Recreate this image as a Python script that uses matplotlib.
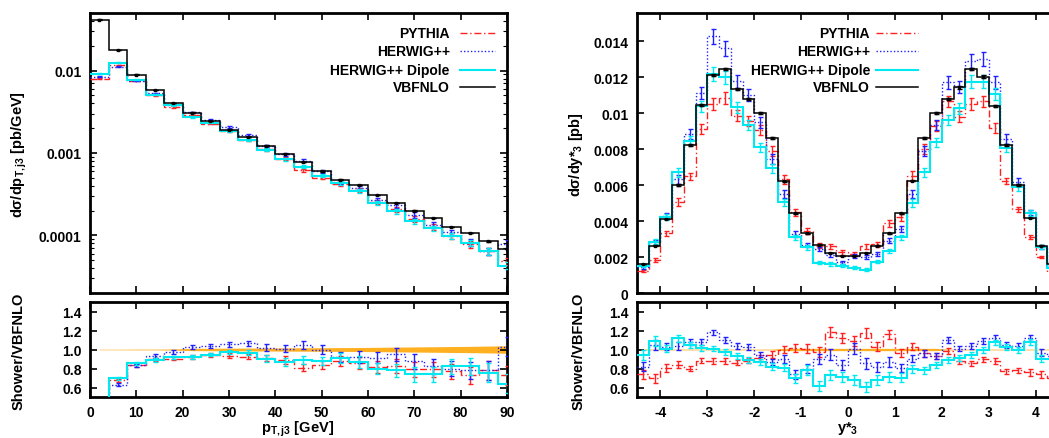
import numpy as np
import matplotlib
matplotlib.use('Agg')
import matplotlib.pyplot as plt
from matplotlib.ticker import LogLocator, NullFormatter

plt.rcParams['font.family'] = ['Liberation Sans', 'DejaVu Sans']
plt.rcParams['font.weight'] = 'bold'
plt.rcParams['axes.unicode_minus'] = False
plt.rcParams['mathtext.fontset'] = 'custom'
plt.rcParams['mathtext.rm'] = 'Liberation Sans:bold'
plt.rcParams['mathtext.it'] = 'Liberation Sans:bold'
plt.rcParams['mathtext.bf'] = 'Liberation Sans:bold'
plt.rcParams['mathtext.default'] = 'rm'

# ---- data: pT of third jet (4 GeV bins) ----
pt_edges = list(range(0, 93, 4))
pt_vbfnlo = [0.0416, 0.01766, 0.00894, 0.00577, 0.00405, 0.00309, 0.00245, 0.00192, 0.00156, 0.00123,
             0.000972, 0.000778, 0.000599, 0.000475, 0.000409, 0.000312, 0.000249, 0.0002, 0.000163,
             0.000126, 0.000107, 8.46e-5, 6.9e-5]
pt_pythia = [0.0080, 0.0116, 0.00749, 0.00502, 0.00362, 0.00287, 0.00227, 0.00183, 0.00143, 0.00111,
             0.000853, 0.000616, 0.000501, 0.000416, 0.000359, 0.000254, 0.000207, 0.000159, 0.000126,
             9.8e-5, 7.8e-5, 6.45e-5, 4.9e-5]
pt_herwig = [0.0084, 0.0111, 0.00756, 0.0053, 0.00387, 0.00312, 0.00252, 0.00205, 0.00165, 0.00122,
             0.000962, 0.000806, 0.000599, 0.000446, 0.000376, 0.000271, 0.000232, 0.000178, 0.000134,
             0.000109, 8.2e-5, 6.45e-5, 7.9e-5]
pt_dipole = [0.0092, 0.0124, 0.00777, 0.0051, 0.0038, 0.00274, 0.00234, 0.00185, 0.00143, 0.0011,
             0.00084, 0.00068, 0.00053, 0.000433, 0.000349, 0.000249, 0.000198, 0.000148, 0.000122,
             9.8e-5, 8.1e-5, 6.45e-5, 4.3e-5]
pt_ratio_pythia = [0.19, 0.675, 0.835, 0.895, 0.905, 0.92, 0.94, 0.933, 0.923, 0.912, 0.89, 0.81, 0.835,
                   0.877, 0.86, 0.817, 0.825, 0.79, 0.79, 0.77, 0.73, 0.78, 0.73]
pt_ratio_herwig = [0.2, 0.63, 0.835, 0.933, 0.975, 1.025, 1.04, 1.055, 1.065, 1.02, 1.01, 1.05, 1.0,
                   0.92, 0.92, 0.915, 0.95, 0.877, 0.825, 0.8, 0.78, 0.78, 1.03]
pt_ratio_dipole = [0.22, 0.695, 0.855, 0.888, 0.916, 0.923, 0.947, 0.975, 0.965, 0.905, 0.87, 0.89, 0.88,
                   0.91, 0.87, 0.80, 0.78, 0.74, 0.74, 0.825, 0.825, 0.755, 0.64]
pt_err = [0.01, 0.015, 0.015, 0.02, 0.02, 0.02, 0.02, 0.025, 0.025, 0.035, 0.04, 0.04, 0.045, 0.05,
          0.06, 0.06, 0.07, 0.08, 0.08, 0.08, 0.09, 0.1, 0.1]
pt_band = [0.003, 0.003, 0.004, 0.004, 0.006, 0.012, 0.013, 0.014, 0.015, 0.016, 0.017, 0.018, 0.019,
           0.02, 0.021, 0.023, 0.025, 0.027, 0.029, 0.031, 0.033, 0.036, 0.04]

# ---- data: y*_3 (0.25 bins) ----
y_edges = [-4.5 + 0.25 * i for i in range(37)]
y_vbfnlo = [0.00161, 0.00263, 0.00411, 0.0060, 0.00822, 0.01044, 0.01211, 0.01244, 0.01133, 0.01078,
            0.00998, 0.00859, 0.0062, 0.00444, 0.00331, 0.00269, 0.00222, 0.00206, 0.00206, 0.00222,
            0.00263, 0.00331, 0.00443, 0.00624, 0.00859, 0.00998, 0.01078, 0.01143, 0.01244, 0.01202,
            0.01041, 0.00824, 0.0060, 0.00417, 0.00263, 0.0016]
y_pythia = [0.00124, 0.00183, 0.00331, 0.00505, 0.00648, 0.00911, 0.0105, 0.01083, 0.00985, 0.00957,
            0.00906, 0.0079, 0.00633, 0.00448, 0.00343, 0.00263, 0.00259, 0.00226, 0.00217, 0.0026,
            0.00272, 0.00388, 0.0042, 0.0065, 0.008, 0.0093, 0.01065, 0.0098, 0.0105, 0.01065,
            0.00915, 0.00622, 0.00465, 0.0031, 0.002, 0.00115]
y_herwig = [0.00143, 0.00281, 0.0043, 0.00633, 0.00883, 0.01111, 0.01426, 0.01359, 0.01176, 0.01102,
            0.00948, 0.00744, 0.0055, 0.00328, 0.00267, 0.00244, 0.00211, 0.0017, 0.00207, 0.00198,
            0.00217, 0.00291, 0.00356, 0.0055, 0.0079, 0.00933, 0.0117, 0.01143, 0.0129, 0.013,
            0.0117, 0.00856, 0.00619, 0.00448, 0.00254, 0.0015]
y_dipole = [0.00152, 0.00285, 0.0042, 0.0067, 0.00846, 0.01037, 0.01217, 0.01198, 0.01031, 0.00933,
            0.00809, 0.00693, 0.00504, 0.00309, 0.00254, 0.00167, 0.00161, 0.00152, 0.00141, 0.0013,
            0.00174, 0.00235, 0.00309, 0.005, 0.0067, 0.00837, 0.00961, 0.01026, 0.01174, 0.01174,
            0.01106, 0.00806, 0.00587, 0.00444, 0.00254, 0.0014]
y_ratio_pythia = [0.737, 0.695, 0.807, 0.842, 0.80, 0.884, 0.877, 0.877, 0.863, 0.884, 0.912, 0.947,
                  1.0, 1.015, 1.01, 0.975, 1.186, 1.12, 1.088, 1.175, 1.03, 1.16, 0.965, 1.03, 0.958,
                  0.933, 0.982, 0.877, 0.853, 0.895, 0.88, 0.77, 0.78, 0.758, 0.737, 0.70]
y_ratio_herwig = [0.82, 1.046, 1.03, 1.035, 1.08, 1.08, 1.18, 1.1, 1.035, 1.03, 0.947, 0.87, 0.9, 0.737,
                  0.8, 0.9, 0.947, 0.835, 1.01, 0.853, 0.818, 0.87, 0.807, 0.905, 0.958, 0.933, 1.1,
                  1.01, 1.04, 1.09, 1.12, 1.046, 1.035, 1.12, 0.968, 0.93]
y_ratio_dipole = [0.94, 1.088, 1.01, 1.116, 1.046, 1.018, 1.01, 0.975, 0.933, 0.888, 0.87, 0.818, 0.81,
                  0.695, 0.782, 0.617, 0.73, 0.712, 0.677, 0.607, 0.677, 0.712, 0.705, 0.793, 0.782,
                  0.835, 0.888, 0.912, 0.94, 0.993, 1.074, 1.03, 0.993, 1.08, 0.905, 0.9]
y_err = [0.05, 0.05, 0.04, 0.04, 0.03, 0.03, 0.03, 0.03, 0.03, 0.03, 0.03, 0.035, 0.04, 0.045, 0.05,
         0.05, 0.055, 0.055, 0.055, 0.055, 0.05, 0.05, 0.045, 0.04, 0.035, 0.03, 0.03, 0.03, 0.03,
         0.03, 0.03, 0.03, 0.03, 0.035, 0.04, 0.05]
y_band = [0.004] * 12 + [0.012] * 14 + [0.004] * 10

labels = ['PYTHIA', 'HERWIG++', 'HERWIG++ Dipole', 'VBFNLO']
colors = ['#ff2020', '#2020ff', '#00e8f0', 'black']
styles = [(0, (5, 2, 1, 2)), (0, (1, 1.5)), '-', '-']
widths = [1.0, 1.0, 1.5, 1.1]

W, H = 1049, 439
fig = plt.figure(figsize=(W / 100, H / 100), dpi=100)


def ax_at(x0, y0, x1, y1):
    return fig.add_axes([x0 / W, 1 - y1 / H, (x1 - x0) / W, (y1 - y0) / H])


ax1 = ax_at(90, 14, 507, 294)
ax2 = ax_at(90, 303, 507, 398)
ax3 = ax_at(637, 14, 1059, 294)
ax4 = ax_at(637, 303, 1059, 398)


def draw_hist(ax, edges, vals, err, i, ms=0):
    e = np.array(edges)
    c = 0.5 * (e[1:] + e[:-1])
    ax.stairs(vals, e, baseline=None, color=colors[i], linestyle=styles[i], lw=widths[i], zorder=3 + i)
    ax.errorbar(c, vals, yerr=err, fmt='s' if ms else 'none', ms=ms, color=colors[i],
                ecolor=colors[i], elinewidth=1.0, capsize=1.8, capthick=1.0, zorder=3 + i)


# top left
for i, v in enumerate([pt_pythia, pt_herwig, pt_dipole]):
    draw_hist(ax1, pt_edges, v, np.array(v) * np.array(pt_err), i)
draw_hist(ax1, pt_edges, pt_vbfnlo, np.array(pt_vbfnlo) * 0.005, 3, ms=2)
ax1.set_yscale('log')
ax1.set_ylim(2e-5, 0.05)
ax1.set_xlim(0, 90)
ax1.set_yticks([0.0001, 0.001, 0.01])
ax1.set_yticklabels(['0.0001', '0.001', '0.01'])
ax1.yaxis.set_minor_locator(LogLocator(base=10, subs=np.arange(2, 10)))
ax1.yaxis.set_minor_formatter(NullFormatter())

# bottom left
pt_c = 0.5 * (np.array(pt_edges[1:]) + np.array(pt_edges[:-1]))
ax2.fill_between(pt_c, 1 - np.array(pt_band), 1 + np.array(pt_band), color='#ffb020', lw=0, zorder=1)
for i, v in enumerate([pt_ratio_pythia, pt_ratio_herwig, pt_ratio_dipole]):
    draw_hist(ax2, pt_edges, v, pt_err, i)
ax2.set_xlim(0, 90)
ax2.set_ylim(0.5, 1.5)

# top right
for i, v in enumerate([y_pythia, y_herwig, y_dipole]):
    draw_hist(ax3, y_edges, v, np.array(v) * np.array(y_err), i)
draw_hist(ax3, y_edges, y_vbfnlo, np.array(y_vbfnlo) * 0.006, 3, ms=2)
ax3.set_xlim(-4.5, 4.5)
ax3.set_ylim(0, 0.01556)
ax3.set_yticks([0, 0.002, 0.004, 0.006, 0.008, 0.01, 0.012, 0.014])
ax3.set_yticklabels(['0', '0.002', '0.004', '0.006', '0.008', '0.01', '0.012', '0.014'])

# bottom right
y_c = 0.5 * (np.array(y_edges[1:]) + np.array(y_edges[:-1]))
ax4.fill_between(y_c, 1 - np.array(y_band), 1 + np.array(y_band), color='#ffb020', lw=0, zorder=1)
for i, v in enumerate([y_ratio_pythia, y_ratio_herwig, y_ratio_dipole]):
    draw_hist(ax4, y_edges, v, y_err, i)
ax4.set_xlim(-4.5, 4.5)
ax4.set_ylim(0.5, 1.5)

for ax in (ax2, ax4):
    ax.set_yticks([0.6, 0.8, 1.0, 1.2, 1.4])
    ax.set_yticklabels(['0.6', '0.8', '1.0', '1.2', '1.4'])
ax2.set_xticks(range(0, 91, 10))
ax4.set_xticks(range(-4, 5))
ax1.set_xticks(range(0, 91, 10))
ax3.set_xticks(range(-4, 5))
ax1.set_xticklabels([])
ax3.set_xticklabels([])

for ax in (ax1, ax2, ax3, ax4):
    for s in ax.spines.values():
        s.set_linewidth(2)
    ax.tick_params(which='major', direction='in', length=5, width=1.2, top=True, right=True,
                   labelsize=10, pad=6)
    ax.tick_params(which='minor', direction='in', length=3, width=0.8, top=True, right=True)
    for t in ax.get_xticklabels() + ax.get_yticklabels():
        t.set_fontweight('bold')

# legends, gnuplot style: right-aligned text then line sample
for ax, xt, xl0, xl1 in ((ax1, 0.863, 0.887, 0.971), (ax3, 0.552, 0.566, 0.666)):
    for i, (lab, yy) in enumerate(zip(labels, [0.929, 0.864, 0.797, 0.736])):
        ax.text(xt, yy, lab, transform=ax.transAxes, ha='right', va='center', fontsize=10,
                fontweight='bold')
        ax.plot([xl0, xl1], [yy, yy], transform=ax.transAxes, color=colors[i], ls=styles[i],
                lw=widths[i])

# axis titles
fig.text(19 / W, 1 - 155 / H, 'dσ/dp$_{T,j3}$ [pb/GeV]', rotation=90, ha='center', va='center',
         fontsize=10.5, fontweight='bold')
fig.text(19 / W, 1 - 351 / H, 'Shower/VBFNLO', rotation=90, ha='center', va='center',
         fontsize=10.5, fontweight='bold')
fig.text(576 / W, 1 - 155 / H, 'dσ/dy*$_{3}$ [pb]', rotation=90, ha='center', va='center',
         fontsize=10.5, fontweight='bold')
fig.text(579 / W, 1 - 351 / H, 'Shower/VBFNLO', rotation=90, ha='center', va='center',
         fontsize=10.5, fontweight='bold')
fig.text(298 / W, 1 - 429 / H, 'p$_{T,j3}$ [GeV]', ha='center', va='center', fontsize=10.5,
         fontweight='bold')
fig.text(848 / W, 1 - 429 / H, 'y*$_{3}$', ha='center', va='center', fontsize=10.5,
         fontweight='bold')

fig.savefig('out.png', dpi=100)
